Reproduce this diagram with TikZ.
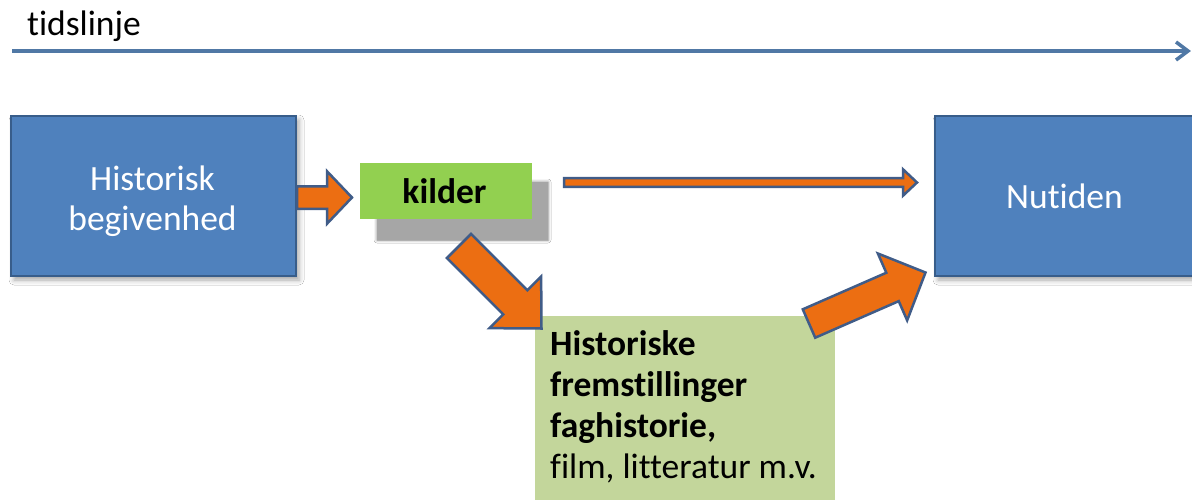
\documentclass[tikz,border=0pt]{standalone}
\usepackage{fontspec}
\setmainfont{Carlito}[Ligatures=NoCommon]
\usetikzlibrary{calc,arrows.meta,shadows.blur}
\definecolor{boxblue}{RGB}{79,129,189}
\definecolor{boxborder}{RGB}{56,93,138}
\definecolor{kildgreen}{RGB}{146,208,80}
\definecolor{fremgreen}{RGB}{195,214,155}
\definecolor{arroworange}{RGB}{236,110,18}
\definecolor{arrowline}{RGB}{64,92,136}
\definecolor{timeblue}{RGB}{80,120,165}
\definecolor{shadowgray}{RGB}{166,166,166}
\newcommand\blockarrow[6]{%
  \coordinate (hb) at ($(#3)!#6!(#2)$);
  \draw[#1] ($(#2)!#4!90:(#3)$) -- ($(hb)!#4!90:(#3)$) -- ($(hb)!#5!90:(#3)$) -- (#3)
    -- ($(hb)!#5!-90:(#3)$) -- ($(hb)!#4!-90:(#3)$) -- ($(#2)!#4!-90:(#3)$) -- cycle;
}
\begin{document}
\begin{tikzpicture}[x=1pt,y=-1pt,
  txt/.style={inner sep=0pt, font=\fontsize{35.5}{40}\selectfont},
  whitetxt/.style={txt, text=white},
  boldtxt/.style={txt, font=\fontsize{35.5}{40}\selectfont\bfseries},
  bluebox/.style={draw=boxborder, line width=2pt, fill=boxblue, inner sep=0pt,
    blur shadow={shadow xshift=3pt, shadow yshift=-4pt, shadow blur radius=5pt, shadow opacity=35}},
  greenbox/.style={fill=#1, inner sep=0pt},
  blockarr/.style={fill=arroworange, draw=arrowline, line width=2.5pt, line join=miter},
  thinarr/.style={fill=arroworange, draw=arrowline, line width=2.5pt, line join=miter},
  timeline/.style={draw=timeblue, line width=3.2pt},
  timetip/.style={draw=timeblue, line width=3.5pt, line join=miter, line cap=butt}
]
\useasboundingbox (0,0) rectangle (1192,499);
\fill[white] (0,0) rectangle (1192,499);

% timeline
\node[txt, anchor=base west] (title) at (27,35) {tidslinje};
\coordinate (tl0) at (12,51);
\coordinate (tl1) at (1188,51);
\draw[timeline] (tl0) -- (tl1);
\draw[timetip] ($(tl1)+(-12,-9)$) -- (tl1) -- ($(tl1)+(-12,9)$);

% boxes
\node[bluebox, minimum width=285pt, minimum height=160pt] (hist) at (153.5,196) {};
\node[whitetxt, anchor=base] (hist1) at (152.5,190) {Historisk};
\node[whitetxt, anchor=base] (hist2) at (152.5,230) {begivenhed};

\node[bluebox, minimum width=260pt, minimum height=160pt] (nu) at (1065,196) {};
\node[whitetxt, anchor=base] (nutxt) at (1064.5,208) {Nutiden};

\node[greenbox=shadowgray, minimum width=171pt, minimum height=58pt,
  blur shadow={shadow xshift=0pt, shadow yshift=0pt, shadow blur radius=3pt, shadow opacity=50}] (kshadow) at (462.5,211) {};
\node[greenbox=kildgreen, minimum width=172pt, minimum height=56pt] (kilder) at (446,191) {};
\node[boldtxt, anchor=base] (kiltxt) at (444.5,203) {kilder};

\node[greenbox=fremgreen, minimum width=300pt, minimum height=190pt, anchor=north west] (frem) at (535,316) {};
\node[boldtxt, anchor=base west] (f1) at (550,355) {Historiske};
\node[boldtxt, anchor=base west] (f2) at (550,396) {fremstillinger};
\node[boldtxt, anchor=base west] (f3) at (550,437) {faghistorie,};
\node[txt, anchor=base west] (f4) at (550,478) {film, litteratur m.v.};

% arrows
\coordinate (a1s) at (297,197.5);
\coordinate (a1e) at (352,197.5);
\blockarrow{blockarr}{a1s}{a1e}{11.25pt}{26.25pt}{25pt}

\coordinate (a2s) at (564,182.5);
\coordinate (a2e) at (917,182.5);
\blockarrow{thinarr}{a2s}{a2e}{4.3pt}{13.2pt}{14pt}

\coordinate (a3s) at (459,246);
\coordinate (a3e) at (541.5,328.5);
\blockarrow{blockarr}{a3s}{a3e}{17pt}{36.5pt}{37pt}

\coordinate (a4s) at (809,323.5);
\coordinate (a4e) at (925.5,272.5);
\blockarrow{blockarr}{a4s}{a4e}{15.5pt}{36.5pt}{36pt}
\end{tikzpicture}
\end{document}
